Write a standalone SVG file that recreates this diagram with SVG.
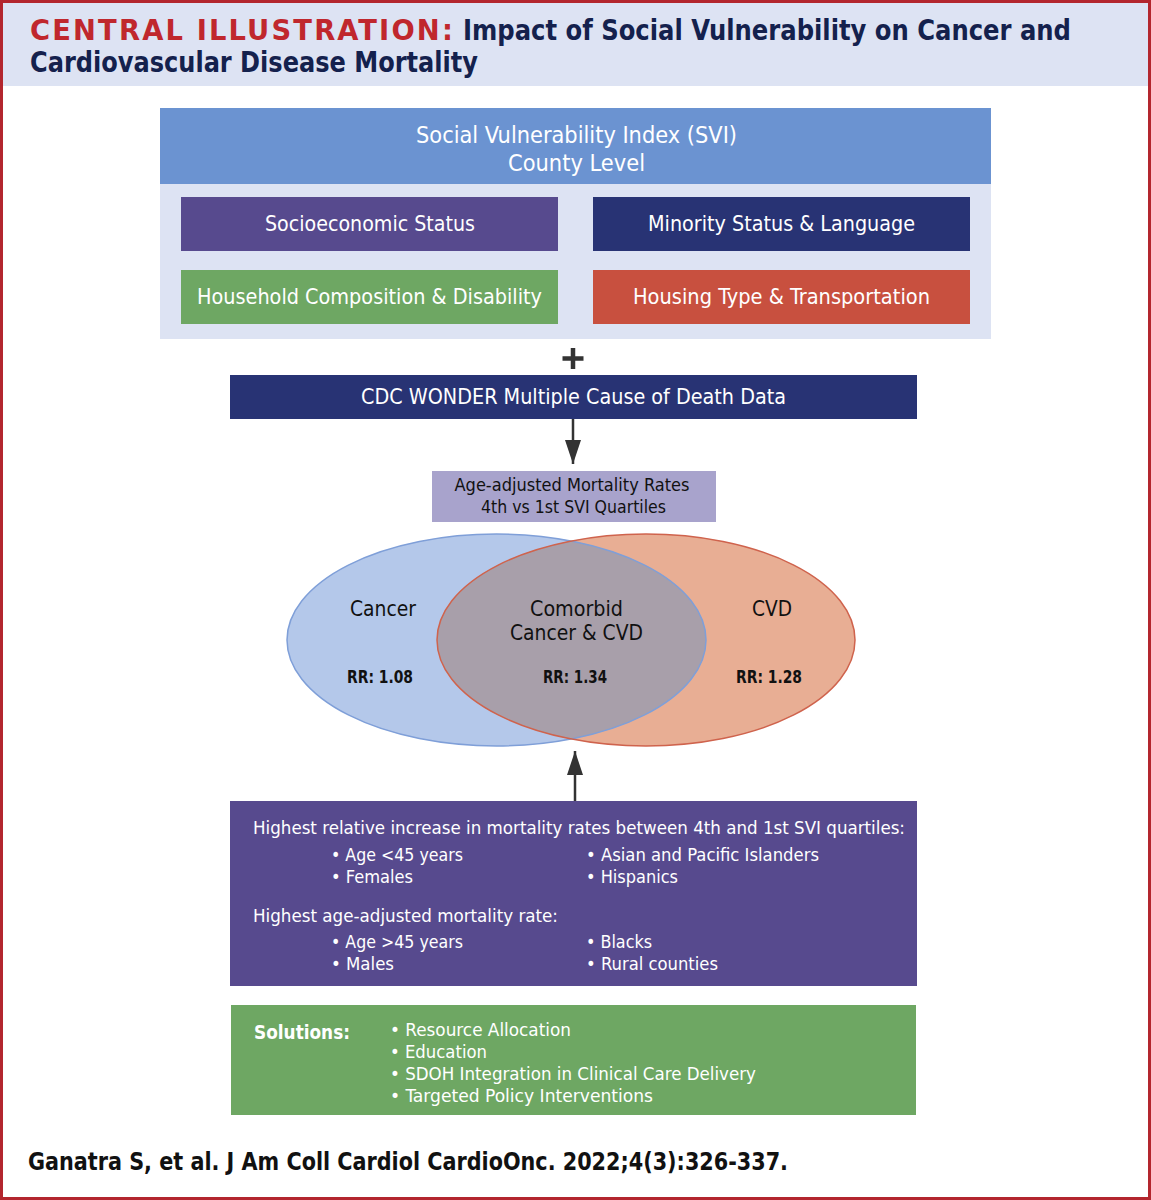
<svg xmlns="http://www.w3.org/2000/svg" width="1151" height="1200" viewBox="0 0 1151 1200">
<defs>
<style>
text{font-family:"Liberation Sans Narrow","DejaVu Sans Condensed","Liberation Sans",sans-serif;}
.w{fill:#ffffff;}
.k{fill:#111111;}
.ttl{font-weight:bold;font-size:28px;}
</style>
<marker id="ah" viewBox="0 0 24 16" refX="24" refY="8" markerWidth="24" markerHeight="16" markerUnits="userSpaceOnUse" orient="auto">
<path d="M0,0 L24,8 L0,16 z" fill="#333333"/>
</marker>
<clipPath id="clipL"><ellipse cx="496.5" cy="640" rx="209.5" ry="106"/></clipPath>
</defs>
<rect x="0" y="0" width="1151" height="1200" fill="#ffffff"/>
<rect x="3" y="3" width="1145" height="83" fill="#dde3f3"/>
<rect x="1.5" y="1.5" width="1148" height="1197" fill="none" stroke="#b3262e" stroke-width="3"/>
<g id="title">
<text x="30" y="40" class="ttl" fill="#c0272d" textLength="425" lengthAdjust="spacingAndGlyphs" style="letter-spacing:2px">CENTRAL ILLUSTRATION:</text>
<text x="463" y="40" class="ttl" fill="#14214d" textLength="608" lengthAdjust="spacingAndGlyphs">Impact of Social Vulnerability on Cancer and</text>
<text x="30" y="72" class="ttl" fill="#14214d" textLength="448" lengthAdjust="spacingAndGlyphs">Cardiovascular Disease Mortality</text>
</g>
<g id="svi">
<rect x="160" y="108" width="831" height="231" fill="#dde3f3"/>
<rect x="160" y="108" width="831" height="76" fill="#6b93d1"/>
<text x="576.5" y="143" class="w" font-size="23" text-anchor="middle" textLength="321" lengthAdjust="spacingAndGlyphs">Social Vulnerability Index (SVI)</text>
<text x="576.5" y="171" class="w" font-size="23" text-anchor="middle" textLength="137" lengthAdjust="spacingAndGlyphs">County Level</text>
</g>
<g id="socio">
<rect x="181" y="197" width="377" height="54" fill="#574a8e"/>
<text x="370" y="231" class="w" font-size="21" text-anchor="middle" textLength="210" lengthAdjust="spacingAndGlyphs">Socioeconomic Status</text>
</g>
<g id="minority">
<rect x="593" y="197" width="377" height="54" fill="#283374"/>
<text x="781.5" y="231" class="w" font-size="21" text-anchor="middle" textLength="267" lengthAdjust="spacingAndGlyphs">Minority Status &amp; Language</text>
</g>
<g id="household">
<rect x="181" y="270" width="377" height="54" fill="#6ea763"/>
<text x="369.5" y="304" class="w" font-size="21" text-anchor="middle" textLength="345" lengthAdjust="spacingAndGlyphs">Household Composition &amp; Disability</text>
</g>
<g id="housing">
<rect x="593" y="270" width="377" height="54" fill="#c8503f"/>
<text x="781.5" y="304" class="w" font-size="21" text-anchor="middle" textLength="297" lengthAdjust="spacingAndGlyphs">Housing Type &amp; Transportation</text>
</g>
<g id="plus">
<path d="M573,348 V369 M562.5,358.5 H583.5" stroke="#333333" stroke-width="4.5" fill="none"/>
</g>
<g id="cdc">
<rect x="230" y="375" width="687" height="44" fill="#283374"/>
<text x="573.5" y="404" class="w" font-size="21" text-anchor="middle" textLength="425" lengthAdjust="spacingAndGlyphs">CDC WONDER Multiple Cause of Death Data</text>
</g>
<g id="aamr">
<rect x="432" y="471" width="284" height="51" fill="#a8a3cc"/>
<text x="572" y="491" class="k" font-size="17" text-anchor="middle" textLength="235" lengthAdjust="spacingAndGlyphs">Age-adjusted Mortality Rates</text>
<text x="573.5" y="513" class="k" font-size="17" text-anchor="middle" textLength="185" lengthAdjust="spacingAndGlyphs">4th vs 1st SVI Quartiles</text>
</g>
<g id="venn">
<ellipse cx="496.5" cy="640" rx="209.5" ry="106" fill="#b4c8ea"/>
<ellipse cx="646" cy="640" rx="209" ry="106" fill="#e8ae94"/>
<ellipse cx="646" cy="640" rx="209" ry="106" fill="#a89faa" clip-path="url(#clipL)"/>
<ellipse cx="496.5" cy="640" rx="209.5" ry="106" fill="none" stroke="#7f9fd8" stroke-width="1.5"/>
<ellipse cx="646" cy="640" rx="209" ry="106" fill="none" stroke="#cf634d" stroke-width="1.5"/>
</g>
<g id="cancer">
<text x="383" y="616" class="k" font-size="21" text-anchor="middle" textLength="66" lengthAdjust="spacingAndGlyphs">Cancer</text>
<text x="380" y="683" class="k" font-size="17" font-weight="bold" text-anchor="middle" textLength="66" lengthAdjust="spacingAndGlyphs">RR: 1.08</text>
</g>
<g id="comorbid">
<text x="576.5" y="616" class="k" font-size="21" text-anchor="middle" textLength="93" lengthAdjust="spacingAndGlyphs">Comorbid</text>
<text x="576.5" y="640" class="k" font-size="21" text-anchor="middle" textLength="133" lengthAdjust="spacingAndGlyphs">Cancer &amp; CVD</text>
<text x="575" y="683" class="k" font-size="17" font-weight="bold" text-anchor="middle" textLength="64" lengthAdjust="spacingAndGlyphs">RR: 1.34</text>
</g>
<g id="cvd">
<text x="772" y="616" class="k" font-size="21" text-anchor="middle" textLength="40" lengthAdjust="spacingAndGlyphs">CVD</text>
<text x="769" y="683" class="k" font-size="17" font-weight="bold" text-anchor="middle" textLength="66" lengthAdjust="spacingAndGlyphs">RR: 1.28</text>
</g>
<g id="findings">
<rect x="230" y="801" width="687" height="185" fill="#574a8e"/>
<text x="253" y="834" class="w" font-size="18" textLength="652" lengthAdjust="spacingAndGlyphs">Highest relative increase in mortality rates between 4th and 1st SVI quartiles:</text>
<text x="331" y="861" class="w" font-size="18" textLength="132" lengthAdjust="spacingAndGlyphs">• Age &lt;45 years</text>
<text x="331" y="883" class="w" font-size="18" textLength="82" lengthAdjust="spacingAndGlyphs">• Females</text>
<text x="586" y="861" class="w" font-size="18" textLength="233" lengthAdjust="spacingAndGlyphs">• Asian and Pacific Islanders</text>
<text x="586" y="883" class="w" font-size="18" textLength="92" lengthAdjust="spacingAndGlyphs">• Hispanics</text>
<text x="253" y="922" class="w" font-size="18" textLength="305" lengthAdjust="spacingAndGlyphs">Highest age-adjusted mortality rate:</text>
<text x="331" y="948" class="w" font-size="18" textLength="132" lengthAdjust="spacingAndGlyphs">• Age &gt;45 years</text>
<text x="331" y="970" class="w" font-size="18" textLength="63" lengthAdjust="spacingAndGlyphs">• Males</text>
<text x="586" y="948" class="w" font-size="18" textLength="66" lengthAdjust="spacingAndGlyphs">• Blacks</text>
<text x="586" y="970" class="w" font-size="18" textLength="132" lengthAdjust="spacingAndGlyphs">• Rural counties</text>
</g>
<g id="solutions">
<rect x="231" y="1005" width="685" height="110" fill="#6ea763"/>
<text x="254" y="1039" class="w" font-size="20" font-weight="bold" textLength="96" lengthAdjust="spacingAndGlyphs">Solutions:</text>
<text x="390" y="1036" class="w" font-size="18" textLength="181" lengthAdjust="spacingAndGlyphs">• Resource Allocation</text>
<text x="390" y="1058" class="w" font-size="18" textLength="97" lengthAdjust="spacingAndGlyphs">• Education</text>
<text x="390" y="1080" class="w" font-size="18" textLength="366" lengthAdjust="spacingAndGlyphs">• SDOH Integration in Clinical Care Delivery</text>
<text x="390" y="1102" class="w" font-size="18" textLength="263" lengthAdjust="spacingAndGlyphs">• Targeted Policy Interventions</text>
</g>
<g id="connectors">
<line x1="573" y1="419" x2="573" y2="464" stroke="#333333" stroke-width="2.5" marker-end="url(#ah)"/>
<line x1="575" y1="801" x2="575" y2="751" stroke="#333333" stroke-width="2.5" marker-end="url(#ah)"/>
</g>
<g id="citation">
<text x="28" y="1170" fill="#111111" font-size="24" font-weight="bold" textLength="760" lengthAdjust="spacingAndGlyphs">Ganatra S, et al. J Am Coll Cardiol CardioOnc. 2022;4(3):326-337.</text>
</g>
</svg>
